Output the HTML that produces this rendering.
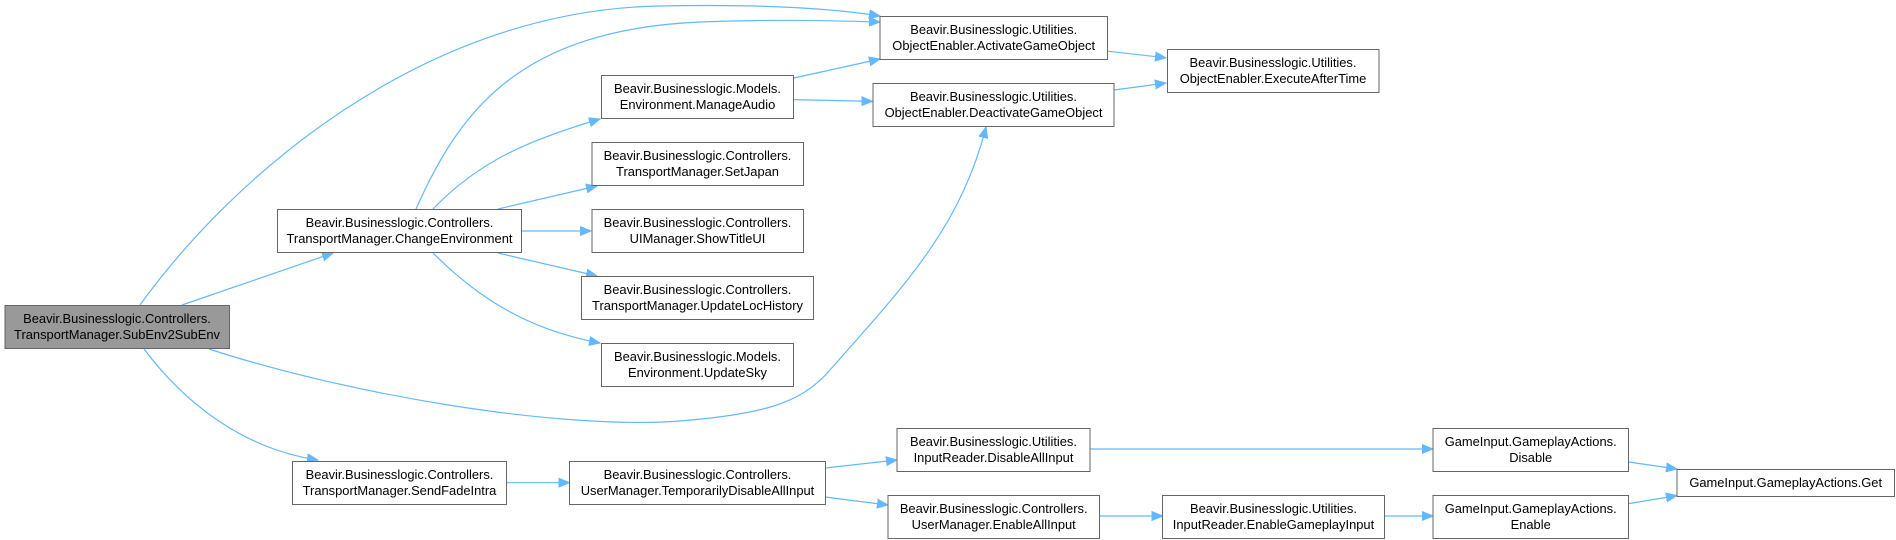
<!DOCTYPE html>
<html><head><meta charset="utf-8"><style>
html,body{margin:0;padding:0;background:#fff;}
svg{display:block;}
text{font-family:"Liberation Sans",sans-serif;font-size:12.9px;fill:#000;}
</style></head><body>
<svg width="1896" height="540" viewBox="0 0 1896 540" xmlns="http://www.w3.org/2000/svg">
<defs>
<marker id="a" markerUnits="userSpaceOnUse" markerWidth="12" markerHeight="10" refX="11" refY="5" orient="auto">
<path d="M0,0.5 L11,5 L0,9.5 Z" fill="#63b8ff" stroke="#63b8ff"/>
</marker>
</defs>
<g fill="none" stroke="#63b8ff" stroke-width="1.2" marker-end="url(#a)">
<path d="M140,305 C230,180 420,10 660,6 C760,4 830,8 880,16"/>
<path d="M416,209 C460,110 520,30 700,22 C780,19 840,21 880,22"/>
<path d="M182,305 L333,253"/>
<path d="M209,349 C350,395 560,430 680,421 C760,414 800,405 830,370 C900,290 960,230 986,127"/>
<path d="M144,349 C190,410 250,450 318,460"/>
<path d="M433,209 C480,160 530,140 600,119"/>
<path d="M498,209 L597,186"/>
<path d="M522,231 L591,231"/>
<path d="M498,253 L597,276"/>
<path d="M433,253 C480,300 530,330 600,343"/>
<path d="M794,78 L880,59"/>
<path d="M794,99.6 L872.6,101.4"/>
<path d="M1107.5,51.2 L1166,57.8"/>
<path d="M1114,90 L1166,83"/>
<path d="M506.6,482.7 L569.6,482.7"/>
<path d="M825,468 L897,460"/>
<path d="M825,497 L888,505"/>
<path d="M1090,449 L1433,449"/>
<path d="M1099.7,516 L1162.7,516"/>
<path d="M1384.5,516 L1433,516"/>
<path d="M1628.7,462 L1677,469"/>
<path d="M1628.7,503.6 L1677,495.6"/>
</g>
<g stroke="#666" stroke-width="1" fill="#fff">
<rect x="5" y="305.5" width="224.5" height="43" fill="#999"/>
<rect x="277.5" y="209.5" width="244" height="43"/>
<rect x="601.5" y="75.5" width="192" height="43"/>
<rect x="592" y="142.5" width="211.5" height="43"/>
<rect x="592" y="209.5" width="211.5" height="43"/>
<rect x="581.5" y="276.5" width="232" height="43"/>
<rect x="601.5" y="343.5" width="192" height="43"/>
<rect x="292.5" y="461.5" width="214" height="43"/>
<rect x="569.5" y="461.5" width="256" height="43"/>
<rect x="880" y="16.5" width="227.5" height="43"/>
<rect x="873" y="83.5" width="241" height="43"/>
<rect x="1167.5" y="49.5" width="211.5" height="43"/>
<rect x="897" y="428.5" width="193" height="43"/>
<rect x="888" y="495.5" width="211.5" height="43"/>
<rect x="1162.5" y="495.5" width="222" height="43"/>
<rect x="1433" y="428.5" width="195.5" height="43"/>
<rect x="1433" y="495.5" width="195.5" height="43"/>
<rect x="1677" y="469.5" width="217.5" height="27"/>
</g>
<g text-anchor="middle">
<text x="117" y="323">Beavir.Businesslogic.Controllers.</text><text x="117" y="339">TransportManager.SubEnv2SubEnv</text>
<text x="399.5" y="227">Beavir.Businesslogic.Controllers.</text><text x="399.5" y="243">TransportManager.ChangeEnvironment</text>
<text x="697.5" y="93">Beavir.Businesslogic.Models.</text><text x="697.5" y="109">Environment.ManageAudio</text>
<text x="697.5" y="160">Beavir.Businesslogic.Controllers.</text><text x="697.5" y="176">TransportManager.SetJapan</text>
<text x="697.5" y="227">Beavir.Businesslogic.Controllers.</text><text x="697.5" y="243">UIManager.ShowTitleUI</text>
<text x="697.5" y="294">Beavir.Businesslogic.Controllers.</text><text x="697.5" y="310">TransportManager.UpdateLocHistory</text>
<text x="697.5" y="361">Beavir.Businesslogic.Models.</text><text x="697.5" y="377">Environment.UpdateSky</text>
<text x="399.5" y="479">Beavir.Businesslogic.Controllers.</text><text x="399.5" y="495">TransportManager.SendFadeIntra</text>
<text x="697.5" y="479">Beavir.Businesslogic.Controllers.</text><text x="697.5" y="495">UserManager.TemporarilyDisableAllInput</text>
<text x="993.7" y="34">Beavir.Businesslogic.Utilities.</text><text x="993.7" y="50">ObjectEnabler.ActivateGameObject</text>
<text x="993.5" y="101">Beavir.Businesslogic.Utilities.</text><text x="993.5" y="117">ObjectEnabler.DeactivateGameObject</text>
<text x="1273" y="67">Beavir.Businesslogic.Utilities.</text><text x="1273" y="83">ObjectEnabler.ExecuteAfterTime</text>
<text x="993.5" y="446">Beavir.Businesslogic.Utilities.</text><text x="993.5" y="462">InputReader.DisableAllInput</text>
<text x="993.7" y="513">Beavir.Businesslogic.Controllers.</text><text x="993.7" y="529">UserManager.EnableAllInput</text>
<text x="1273.5" y="513">Beavir.Businesslogic.Utilities.</text><text x="1273.5" y="529">InputReader.EnableGameplayInput</text>
<text x="1530.7" y="446">GameInput.GameplayActions.</text><text x="1530.7" y="462">Disable</text>
<text x="1530.7" y="513">GameInput.GameplayActions.</text><text x="1530.7" y="529">Enable</text>
<text x="1785.7" y="487">GameInput.GameplayActions.Get</text>
</g>
</svg>
</body></html>
